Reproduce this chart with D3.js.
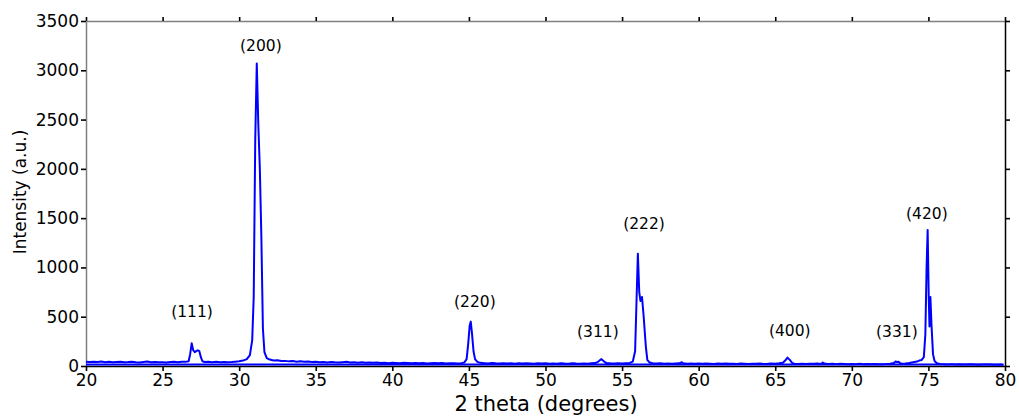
<!DOCTYPE html>
<html>
<head>
<meta charset="utf-8">
<script src="https://cdn.jsdelivr.net/npm/d3@7"></script>
<style>
  body { margin: 0; background: #fff; }
  text { font-family: "DejaVu Sans", sans-serif; }
</style>
</head>
<body>
<div id="chart"></div>
<script>
// XRD pattern
const twoTheta = [
  20.0, 20.25, 20.5, 20.75, 21.0, 21.25, 21.5, 21.75, 22.0, 22.25, 22.5, 22.75, 23.0, 23.25, 23.5, 23.75,
  24.0, 24.25, 24.5, 24.75, 25.0, 25.25, 25.5, 25.75, 26.0, 26.25, 26.5, 26.7, 26.8, 26.9, 27.0, 27.1,
  27.2, 27.3, 27.4, 27.5, 27.6, 27.75, 28.0, 28.25, 28.5, 28.75, 29.0, 29.25, 29.5, 29.75, 30.0, 30.25,
  30.5, 30.7, 30.85, 30.95, 31.05, 31.15, 31.25, 31.35, 31.45, 31.55, 31.65, 31.8, 32.0, 32.25, 32.5, 32.75,
  33.0, 33.25, 33.5, 33.75, 34.0, 34.25, 34.5, 34.75, 35.0, 35.25, 35.5, 35.75, 36.0, 36.25, 36.5, 36.75,
  37.0, 37.25, 37.5, 37.75, 38.0, 38.25, 38.5, 38.75, 39.0, 39.25, 39.5, 39.75, 40.0, 40.25, 40.5, 40.75,
  41.0, 41.25, 41.5, 41.75, 42.0, 42.25, 42.5, 42.75, 43.0, 43.25, 43.5, 43.75, 44.0, 44.25, 44.5, 44.7,
  44.85, 44.95, 45.05, 45.12, 45.2, 45.3, 45.4, 45.55, 45.75, 46.0, 46.25, 46.5, 46.75, 47.0, 47.25, 47.5,
  47.75, 48.0, 48.25, 48.5, 48.75, 49.0, 49.25, 49.5, 49.75, 50.0, 50.25, 50.5, 50.75, 51.0, 51.25, 51.5,
  51.75, 52.0, 52.25, 52.5, 52.75, 53.0, 53.25, 53.45, 53.55, 53.65, 53.75, 53.9, 54.0, 54.25, 54.5, 54.75,
  55.0, 55.25, 55.5, 55.7, 55.85, 55.95, 56.03, 56.12, 56.2, 56.3, 56.4, 56.55, 56.65, 56.8, 57.0, 57.25,
  57.5, 57.75, 58.0, 58.25, 58.5, 58.75, 58.9, 59.0, 59.25, 59.5, 59.75, 60.0, 60.25, 60.5, 60.75, 61.0,
  61.25, 61.5, 61.75, 62.0, 62.25, 62.5, 62.75, 63.0, 63.25, 63.5, 63.75, 64.0, 64.25, 64.5, 64.75, 65.0,
  65.25, 65.5, 65.65, 65.8, 65.95, 66.1, 66.25, 66.5, 66.75, 67.0, 67.25, 67.5, 67.75, 68.0, 68.1, 68.25,
  68.5, 68.75, 69.0, 69.25, 69.5, 69.75, 70.0, 70.25, 70.5, 70.75, 71.0, 71.25, 71.5, 71.75, 72.0, 72.25,
  72.5, 72.75, 72.85, 72.95, 73.05, 73.15, 73.3, 73.5, 73.75, 74.0, 74.25, 74.4, 74.55, 74.7, 74.8, 74.88,
  74.95, 75.02, 75.07, 75.13, 75.2, 75.3, 75.4, 75.55, 75.75, 76.0, 76.25, 76.5, 76.75, 77.0, 77.25, 77.5,
  77.75, 78.0, 78.25, 78.5, 78.75, 79.0, 79.25, 79.5, 79.75, 79.9
];
const intensity = [
  42, 40, 44, 41, 45, 39, 42, 38, 41, 43, 37, 40, 44, 39, 36, 41,
  45, 38, 40, 37, 39, 36, 41, 44, 39, 43, 42, 48, 120, 230, 160, 140,
  150, 160, 150, 90, 48, 40, 44, 39, 42, 38, 41, 37, 40, 44, 48, 55,
  70, 110, 260, 700, 2300, 3070, 2450, 2000, 1300, 380, 140, 80, 65, 55, 58, 50,
  52, 47, 50, 44, 48, 42, 45, 40, 43, 38, 41, 36, 40, 37, 35, 39,
  42, 36, 38, 34, 37, 33, 36, 32, 35, 30, 33, 29, 34, 31, 28, 32,
  30, 27, 31, 28, 30, 26, 29, 31, 27, 30, 26, 29, 28, 25, 29, 36,
  70, 220, 410, 450, 330, 150, 70, 42, 32, 29, 26, 30, 27, 25, 29, 26,
  28, 24, 27, 25, 29, 26, 23, 27, 25, 28, 24, 26, 23, 27, 25, 24,
  28, 25, 23, 26, 24, 28, 30, 45, 58, 70, 55, 36, 30, 27, 25, 28,
  26, 29, 31, 45, 150, 700, 1140, 750, 660, 700, 520, 200, 60, 35, 28, 25,
  27, 24, 26, 23, 25, 27, 38, 28, 24, 26, 23, 25, 22, 26, 24, 21,
  25, 23, 26, 22, 24, 21, 25, 23, 20, 24, 22, 25, 21, 23, 26, 24,
  28, 33, 55, 85, 62, 32, 24, 21, 23, 20, 24, 22, 25, 21, 35, 22,
  20, 23, 19, 22, 20, 18, 21, 19, 22, 18, 20, 17, 21, 19, 18, 20,
  24, 30, 45, 40, 44, 28, 22, 25, 30, 38, 45, 55, 60, 90, 320, 1000,
  1380, 700, 400, 700, 420, 120, 50, 28, 20, 18, 16, 19, 15, 18, 16, 14,
  17, 15, 13, 16, 14, 15, 13, 12, 14, 11
];
const xTicks = [20, 25, 30, 35, 40, 45, 50, 55, 60, 65, 70, 75, 80];
const yTicks = [0, 500, 1000, 1500, 2000, 2500, 3000, 3500];
const peakLabels = ["(111)", "(200)", "(220)", "(311)", "(222)", "(400)", "(331)", "(420)"];
const peakLabelTheta = [26.92, 31.42, 45.39, 53.42, 56.43, 65.95, 72.94, 74.9];
const peakLabelHeight = [497, 3196, 598, 294, 1390, 304, 294, 1491];

const svgWidth = 1019;
const svgHeight = 416;
const margin = { top: 21, right: 14, bottom: 50, left: 86 };
const chartWidth = svgWidth - margin.left - margin.right;
const chartHeight = svgHeight - margin.top - margin.bottom;

const svg = d3.select("#chart")
  .append("svg")
  .attr("width", svgWidth)
  .attr("height", svgHeight);

const chartGroup = svg.append("g")
  .attr("transform", `translate(${margin.left}, ${margin.top})`);

const xScale = d3.scaleLinear().domain([20, 80]).range([0, chartWidth]);
const yScale = d3.scaleLinear().domain([0, 3500]).range([chartHeight, 0]);

const points = twoTheta.map((t, i) => ({ t: t, v: intensity[i] }));

// axes
const styleAxis = (g, domainColor) => {
  g.select(".domain").attr("stroke", domainColor).attr("stroke-width", 1.5);
  g.selectAll(".tick line").attr("stroke", "#000").attr("stroke-width", 1.6);
  g.selectAll(".tick text").attr("font-size", "17px").attr("fill", "#000")
    .attr("font-family", "DejaVu Sans, sans-serif");
};

chartGroup.append("g")
  .call(d3.axisTop(xScale).tickValues(xTicks).tickSize(4).tickSizeOuter(0).tickFormat(""))
  .call(g => styleAxis(g, "#808080"));

chartGroup.append("g")
  .attr("transform", `translate(${chartWidth},0)`)
  .call(d3.axisRight(yScale).tickValues(yTicks).tickSize(5).tickSizeOuter(0).tickFormat(""))
  .call(g => styleAxis(g, "#000"));

chartGroup.append("g")
  .call(d3.axisLeft(yScale).tickValues(yTicks).tickSize(5).tickSizeOuter(0).tickPadding(2)
    .tickFormat(d3.format("d")))
  .call(g => styleAxis(g, "#808080"));

chartGroup.append("g")
  .attr("transform", `translate(0,${chartHeight})`)
  .call(d3.axisBottom(xScale).tickValues(xTicks).tickSize(5).tickSizeOuter(0).tickPadding(3)
    .tickFormat(d3.format("d")))
  .call(g => styleAxis(g, "#000"));

// zero line of the pattern sits on the bottom spine
chartGroup.append("line")
  .attr("x1", xScale(20)).attr("x2", xScale(79.9))
  .attr("y1", yScale(0) - 1.5).attr("y2", yScale(0) - 1.5)
  .attr("stroke", "#0000ff").attr("stroke-width", 2);

// pattern
const line = d3.line()
  .x(d => xScale(d.t))
  .y(d => yScale(d.v));

chartGroup.append("path")
  .datum(points)
  .attr("fill", "none")
  .attr("stroke", "#0000ff")
  .attr("stroke-width", 2)
  .attr("stroke-linejoin", "round")
  .attr("d", line);

// peak labels
chartGroup.selectAll(".peak")
  .data(peakLabels)
  .enter()
  .append("text")
  .attr("class", "peak")
  .attr("x", (d, i) => xScale(peakLabelTheta[i]))
  .attr("y", (d, i) => yScale(peakLabelHeight[i]))
  .attr("text-anchor", "middle")
  .attr("font-size", "15.5px")
  .attr("fill", "#000")
  .text(d => d);

// axis labels
chartGroup.append("text")
  .attr("transform", "rotate(-90)")
  .attr("x", -(192 - margin.top))
  .attr("y", 26 - margin.left)
  .attr("text-anchor", "middle")
  .attr("font-size", "17px")
  .text("Intensity (a.u.)");

chartGroup.append("text")
  .attr("x", 546 - margin.left)
  .attr("y", chartHeight + 45)
  .attr("text-anchor", "middle")
  .attr("font-size", "21px")
  .text("2 theta (degrees)");
</script>
</body>
</html>
